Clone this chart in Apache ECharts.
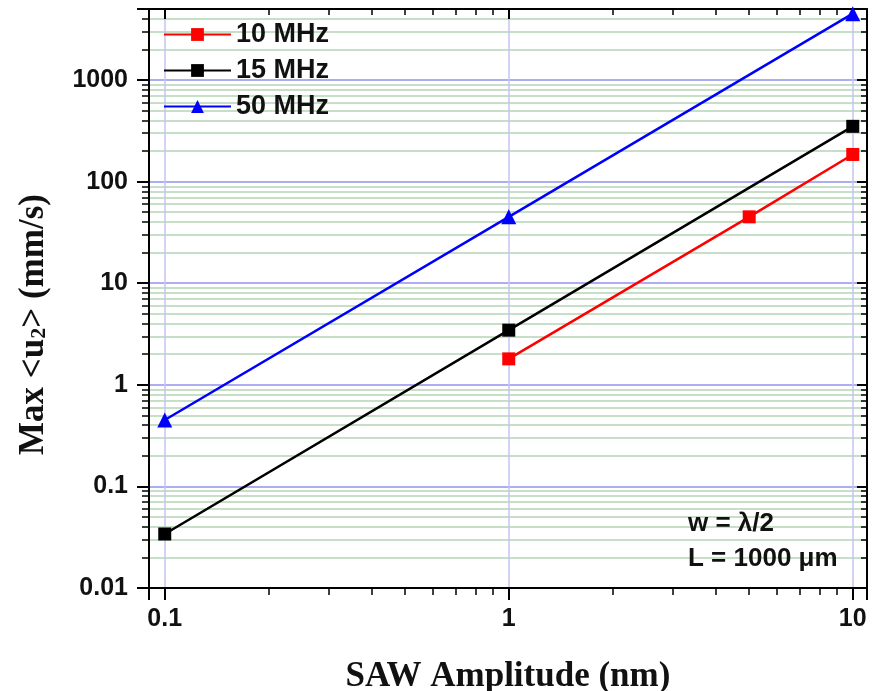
<!DOCTYPE html>
<html>
<head>
<meta charset="utf-8">
<script src="https://cdn.jsdelivr.net/npm/echarts@6/dist/echarts.min.js"></script>
<style>
  html, body { margin: 0; padding: 0; background: #fff; }
  #chart { width: 876px; height: 691px; }
</style>
</head>
<body>
<div id="chart"></div>
<script>
// 数据
const seriesNames = ['10 MHz', '15 MHz', '50 MHz'];
const amp10 = [1, 5, 10];
const vel10 = [1.8, 45, 185];
const amp15 = [0.1, 1, 10];
const vel15 = [0.034, 3.45, 350];
const amp50 = [0.1, 1, 10];
const vel50 = [0.45, 45, 4500];
const notes = ['w = \u03bb/2', 'L = 1000 \u03bcm'];

const chart = echarts.init(document.getElementById('chart'));

function pairs(xs, ys) {
    return xs.map((x, i) => [x, ys[i]]);
}

// 去掉千位分隔符
function plain(v) {
    return String(parseFloat(Number(v).toPrecision(4)));
}

const labelFont = { fontFamily: 'Liberation Sans', fontWeight: 'bold', fontSize: 25, color: '#111' };
const titleFont = { fontFamily: 'Liberation Serif', fontWeight: 'bold', fontSize: 35, color: '#111' };

// 边框轴（上/右）：刻度朝内，无标签
function frameAxis(pos, min, max) {
    return {
        type: 'log', logBase: 10, position: pos, min: min, max: max,
        axisLine: { show: true, lineStyle: { color: '#000', width: 2 } },
        axisTick: { show: true, inside: true, length: 10, lineStyle: { color: '#000', width: 2 } },
        minorTick: { show: true, splitNumber: 9, length: 6, lineStyle: { color: '#000', width: 1.5 } },
        axisLabel: { show: false },
        splitLine: { show: false },
        minorSplitLine: { show: false }
    };
}

const option = {
    backgroundColor: '#fff',
    animation: false,
    grid: { left: 149, right: 9, top: 9, bottom: 103, containLabel: false, outerBoundsMode: 'none' },
    legend: {
        left: 158, top: 16, orient: 'vertical',
        itemWidth: 67, itemHeight: 16, itemGap: 9,
        textStyle: { fontFamily: 'Liberation Sans', fontWeight: 'bold', fontSize: 27, color: '#111', lineHeight: 26 },
        data: seriesNames
    },
    xAxis: [
        {
            type: 'log', logBase: 10, min: 0.09, max: 11, position: 'bottom',
            name: 'SAW Amplitude (nm)', nameLocation: 'middle', nameGap: 71,
            nameTextStyle: titleFont,
            axisLine: { show: true, lineStyle: { color: '#000', width: 2 } },
            axisTick: { show: true, length: 12, lineStyle: { color: '#000', width: 2 } },
            minorTick: { show: true, splitNumber: 9, length: 7, lineStyle: { color: '#000', width: 1.5 } },
            axisLabel: Object.assign({ margin: 19, showMinLabel: false, showMaxLabel: false, formatter: plain }, labelFont),
            splitLine: { show: true, lineStyle: { color: '#c4c4f2', width: 1.5 } },
            minorSplitLine: { show: false }
        },
        frameAxis('top', 0.09, 11)
    ],
    yAxis: [
        {
            type: 'log', logBase: 10, min: 0.01, max: 5000, position: 'left',
            name: 'Max <u{sub|2}> (mm/s)', nameLocation: 'middle', nameGap: 98, nameRotate: 90,
            nameTextStyle: Object.assign({
                padding: [0, 52, 0, 0],
                rich: { sub: { fontFamily: 'Liberation Serif', fontWeight: 'bold', fontSize: 22, color: '#111', padding: [0, 0, -12, 0] } }
            }, titleFont),
            axisLine: { show: true, lineStyle: { color: '#000', width: 2 } },
            axisTick: { show: true, length: 12, lineStyle: { color: '#000', width: 2 } },
            minorTick: { show: true, splitNumber: 9, length: 7, lineStyle: { color: '#000', width: 1.5 } },
            axisLabel: Object.assign({ margin: 21, showMaxLabel: false, formatter: plain }, labelFont),
            splitLine: { show: true, lineStyle: { color: '#9292ec', width: 1.5 } },
            minorSplitLine: { show: true, lineStyle: { color: '#c6dfc6', width: 2 } }
        },
        frameAxis('right', 0.01, 5000)
    ],
    graphic: [
        { type: 'text', left: 688, top: 511, z: 100, style: { text: notes[0], font: 'bold 26px "Liberation Sans"', fill: '#111' } },
        { type: 'text', left: 688, top: 546, z: 100, style: { text: notes[1], font: 'bold 26px "Liberation Sans"', fill: '#111' } }
    ],
    series: [
        {
            name: seriesNames[0], type: 'line', data: pairs(amp10, vel10),
            symbol: 'rect', symbolSize: 13,
            lineStyle: { color: '#ff0000', width: 2.5 }, itemStyle: { color: '#ff0000' }
        },
        {
            name: seriesNames[1], type: 'line', data: pairs(amp15, vel15),
            symbol: 'rect', symbolSize: 13,
            lineStyle: { color: '#000', width: 2.5 }, itemStyle: { color: '#000' }
        },
        {
            name: seriesNames[2], type: 'line', data: pairs(amp50, vel50),
            symbol: 'triangle', symbolSize: 15,
            lineStyle: { color: '#0000ff', width: 2.5 }, itemStyle: { color: '#0000ff' }
        }
    ]
};

chart.setOption(option);
</script>
</body>
</html>
